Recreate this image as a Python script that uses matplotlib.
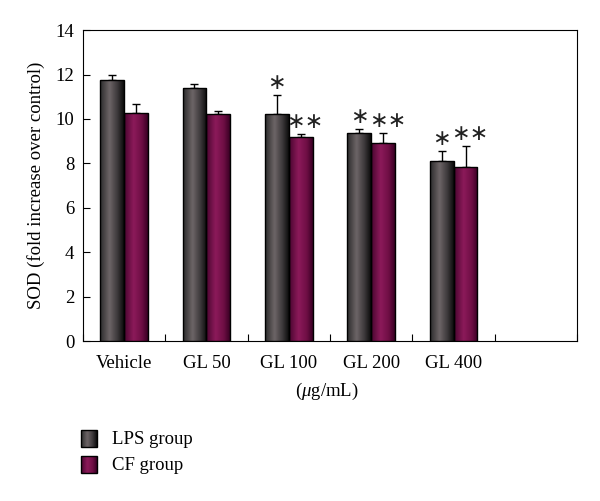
import matplotlib as mpl
import matplotlib.pyplot as plt
import numpy as np
from matplotlib.colors import LinearSegmentedColormap
from matplotlib.patches import Rectangle

mpl.rc('font', family='Liberation Serif', size=13)
mpl.rcParams['mathtext.fontset'] = 'custom'
mpl.rcParams['mathtext.it'] = 'Liberation Serif:italic'
mpl.rcParams['mathtext.rm'] = 'Liberation Serif'

#------------------------------------------------------------------------------
categories = ['Vehicle', 'GL 50', 'GL 100', 'GL 200', 'GL 400']
lps = [11.75, 11.4, 10.22, 9.37, 8.1]
lps_err = [0.22, 0.18, 0.86, 0.18, 0.46]
cf = [10.27, 10.22, 9.19, 8.92, 7.84]
cf_err = [0.4, 0.15, 0.13, 0.45, 0.94]
lps_mark = ['', '', '*', '*', '*']
cf_mark = ['', '', '**', '**', '**']

lps_cmap = LinearSegmentedColormap.from_list(
    'lps', [(0, '#2c2c2c'), (0.4, '#6d6567'), (0.75, '#3a3638'), (1, '#0c0c0c')])
cf_cmap = LinearSegmentedColormap.from_list(
    'cf', [(0, '#4a0630'), (0.4, '#8c1a5a'), (0.75, '#6e0e44'), (1, '#3a0024')])


def shade(ax, patch, cmap):
    # horizontal gradient clipped to the bar
    x0, y0 = patch.get_x(), patch.get_y()
    w, h = patch.get_width(), patch.get_height()
    grad = np.linspace(0, 1, 64).reshape(1, -1)
    im = ax.imshow(grad, cmap=cmap, aspect='auto', extent=(x0, x0 + w, y0, y0 + h),
                   zorder=patch.get_zorder() - 0.1, interpolation='bicubic')
    im.set_clip_path(patch)


def star(s):
    return s.replace('*', '\u2217')


fig = plt.figure(figsize=(6, 5.01), dpi=100)
ax = fig.add_axes([0.138, 0.319, 0.824, 0.621])

x = np.arange(len(categories)) + 0.5
w = 0.29
b1 = ax.bar(x - w / 2, lps, w, facecolor='none', edgecolor='black', linewidth=1, zorder=3)
b2 = ax.bar(x + w / 2, cf, w, facecolor='none', edgecolor='black', linewidth=1, zorder=3)
for p in b1:
    shade(ax, p, lps_cmap)
for p in b2:
    shade(ax, p, cf_cmap)

ax.errorbar(x - w / 2, lps, yerr=[np.zeros(len(lps)), lps_err], fmt='none',
            ecolor='black', elinewidth=1, capsize=3, capthick=1, zorder=2)
ax.errorbar(x + w / 2, cf, yerr=[np.zeros(len(cf)), cf_err], fmt='none',
            ecolor='black', elinewidth=1, capsize=3, capthick=1, zorder=2)

for i in range(len(categories)):
    if lps_mark[i]:
        ax.text(x[i] - w / 2, lps[i] + lps_err[i] + 0.1, star(lps_mark[i]),
                ha='center', va='bottom', fontsize=16, family='DejaVu Sans', color='#222222')
    if cf_mark[i]:
        ax.text(x[i] + w / 2 + 0.05, cf[i] + cf_err[i] + 0.1, star(cf_mark[i]),
                ha='center', va='bottom', fontsize=16, family='DejaVu Sans', color='#222222')

ax.set_xlim(0, 6)
ax.set_ylim(0, 14)
ax.set_yticks(np.arange(0, 15, 2))
ax.set_xticks(np.arange(0, 7, 1))
ax.set_xticklabels([])
ax.set_xticks(x, categories, minor=True)
ax.tick_params(axis='x', which='major', direction='in', length=5)
ax.tick_params(axis='x', which='minor', length=0, pad=10, labelsize=13.5)
ax.tick_params(axis='y', direction='in', length=5, pad=6, labelsize=13.5)
ax.set_ylabel('SOD (fold increase over control)', labelpad=8, fontsize=13.5)
fig.text(0.545, 0.218, r'($\mathit{\mu}$g/mL)', ha='center', va='center', fontsize=13.5)

# legend
lax = fig.add_axes([0, 0, 1, 1], facecolor='none')
lax.set_xlim(0, 600)
lax.set_ylim(501, 0)
lax.axis('off')
for (y0, cmap, lab) in [(430, lps_cmap, 'LPS group'), (456, cf_cmap, 'CF group')]:
    r = Rectangle((81, y0), 16, 17, facecolor='none', edgecolor='black', lw=1, zorder=3)
    lax.add_patch(r)
    shade(lax, r, cmap)
    lax.text(112, y0 + 9, lab, va='center', ha='left', fontsize=13.5)
lax.set_xlim(0, 600)
lax.set_ylim(501, 0)

fig.savefig('out.png', dpi=100)
